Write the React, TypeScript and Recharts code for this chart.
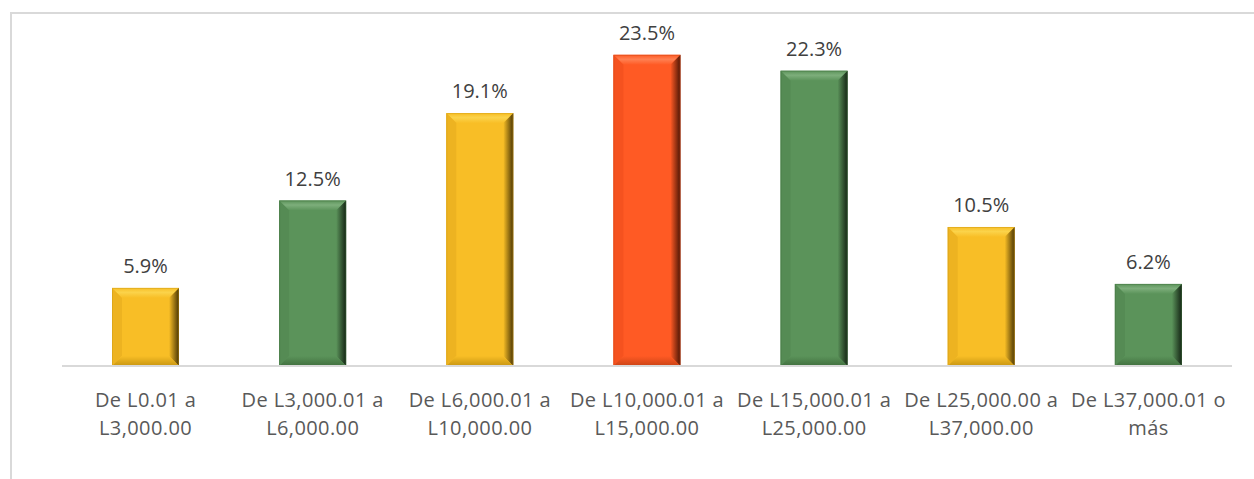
import { BarChart, Bar, XAxis, YAxis, LabelList, Cell } from 'recharts'

const categories = [
  ['De L0.01 a', 'L3,000.00'],
  ['De L3,000.01 a', 'L6,000.00'],
  ['De L6,000.01 a', 'L10,000.00'],
  ['De L10,000.01 a', 'L15,000.00'],
  ['De L15,000.01 a', 'L25,000.00'],
  ['De L25,000.00 a', 'L37,000.00'],
  ['De L37,000.01 o', 'más'],
]
const shares = [5.9, 12.5, 19.1, 23.5, 22.3, 10.5, 6.2]
const colorKeys = ['yellow', 'green', 'yellow', 'red', 'green', 'yellow', 'green']

const PALETTE: Record<string, { main: string; top: string; left: string; right: string; bottom: string }> = {
  yellow: { main: '#F8BE26', top: '#FBD34A', left: '#EDB321', right: '#4A3604', bottom: '#C89612' },
  green: { main: '#5B935A', top: '#7DAE7B', left: '#558B54', right: '#142414', bottom: '#42703F' },
  red: { main: '#FF5A24', top: '#FF8052', left: '#F5521F', right: '#4A1505', bottom: '#CB4315' },
}

const data = categories.map((c, i) => ({
  key: c.join(' '),
  lines: c,
  value: shares[i],
  color: colorKeys[i],
}))

function BevelBar(props: any) {
  const { x, y, width, height, payload } = props
  if (!height || height <= 0) return null
  const p = PALETTE[payload.color]
  const b = Math.min(10, width / 4, height / 3)
  const x2 = x + width
  const y2 = y + height
  return (
    <g>
      <rect x={x} y={y} width={width} height={height} fill={p.main} />
      <polygon points={`${x},${y} ${x2},${y} ${x2 - b},${y + b} ${x + b},${y + b}`} fill={`url(#tb-${payload.color})`} />
      <polygon points={`${x},${y} ${x + b},${y + b} ${x + b},${y2 - b} ${x},${y2}`} fill={p.left} />
      <polygon points={`${x2},${y} ${x2},${y2} ${x2 - b},${y2 - b} ${x2 - b},${y + b}`} fill={`url(#rb-${payload.color})`} />
      <polygon points={`${x},${y2} ${x + b},${y2 - b} ${x2 - b},${y2 - b} ${x2},${y2}`} fill={`url(#bb-${payload.color})`} />
      <rect x={x + 0.5} y={y + 0.5} width={width - 1} height={height - 1} fill="none" stroke={p.bottom} strokeOpacity={0.4} />
    </g>
  )
}

function Tick(props: any) {
  const { x, y, payload } = props
  const item = data.find((d) => d.key === payload.value)
  const lines = item ? item.lines : [payload.value]
  return (
    <text
      x={x}
      y={y}
      textAnchor="middle"
      fill="#595959"
      fontSize={20}
      letterSpacing={0.4}
      fontFamily="'Open Sans', sans-serif"
    >
      {lines.map((l, i) => (
        <tspan key={i} x={x} dy={i === 0 ? 33 : 28}>
          {l}
        </tspan>
      ))}
    </text>
  )
}

export default function App() {
  return (
    <div style={{ position: 'absolute', left: 0, top: 0, width: 1254, height: 479, background: '#fff', overflow: 'hidden' }}>
      <div
        style={{
          position: 'absolute',
          left: 10,
          top: 12,
          width: 1300,
          height: 600,
          borderTop: '2px solid #d9d9d9',
          borderLeft: '2px solid #d9d9d9',
        }}
      />
      <div style={{ position: 'absolute', left: 0, top: 0 }}>
        <BarChart width={1254} height={479} data={data} margin={{ top: 35, right: 22, bottom: 0, left: 62 }}>
          <defs>
            {Object.keys(PALETTE).map((k) => (
              <linearGradient key={`rb-${k}`} id={`rb-${k}`} x1="0" y1="0" x2="1" y2="0">
                <stop offset="0%" stopColor={PALETTE[k].main} />
                <stop offset="100%" stopColor={PALETTE[k].right} />
              </linearGradient>
            ))}
            {Object.keys(PALETTE).map((k) => (
              <linearGradient key={`tb-${k}`} id={`tb-${k}`} x1="0" y1="0" x2="0" y2="1">
                <stop offset="0%" stopColor={PALETTE[k].main} />
                <stop offset="45%" stopColor={PALETTE[k].top} />
                <stop offset="100%" stopColor={PALETTE[k].main} />
              </linearGradient>
            ))}
            {Object.keys(PALETTE).map((k) => (
              <linearGradient key={`bb-${k}`} id={`bb-${k}`} x1="0" y1="0" x2="0" y2="1">
                <stop offset="0%" stopColor={PALETTE[k].main} />
                <stop offset="100%" stopColor={PALETTE[k].bottom} />
              </linearGradient>
            ))}
          </defs>
          <XAxis
            dataKey="key"
            height={113}
            tick={<Tick />}
            tickLine={false}
            axisLine={{ stroke: '#d9d9d9', strokeWidth: 2 }}
            interval={0}
          />
          <YAxis hide domain={[0, 25]} />
          <Bar dataKey="value" barSize={67} shape={<BevelBar />} isAnimationActive={false}>
            {data.map((d) => (
              <Cell key={d.key} fill={PALETTE[d.color].main} />
            ))}
            <LabelList
              dataKey="value"
              position="top"
              offset={15}
              formatter={(v: any) => `${Number(v).toFixed(1)}%`}
              fill="#404040"
              fontSize={20}
              fontFamily="'Open Sans', sans-serif"
            />
          </Bar>
        </BarChart>
      </div>
    </div>
  )
}
